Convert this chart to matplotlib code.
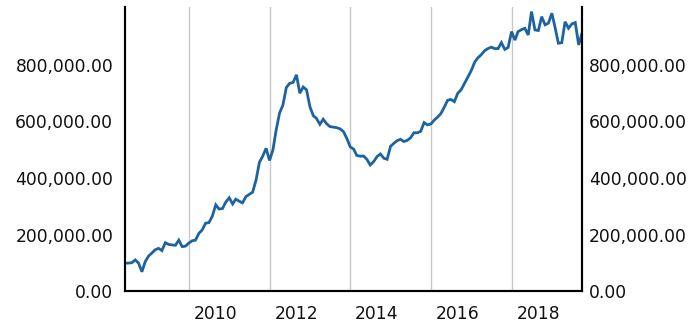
import matplotlib
matplotlib.use('Agg')
import matplotlib.pyplot as plt
import matplotlib.transforms as mtrans
from matplotlib.ticker import FuncFormatter
import pandas as pd

# monthly values, Jun 2008 .. Sep 2019
start = '2008-06-01'
values = [98000, 99000, 100000, 110000, 99000, 68000, 104000, 124000, 135000, 146000,
          151000, 143000, 171000, 165000, 163000, 162000, 180000, 157000, 159000, 170000,
          178000, 180000, 204000, 216000, 240000, 242000, 265000, 305000, 290000, 292000,
          315000, 330000, 308000, 325000, 318000, 312000, 334000, 342000, 350000, 393000,
          455000, 478000, 505000, 462000, 500000, 570000, 630000, 658000, 720000, 735000,
          738000, 765000, 700000, 722000, 712000, 652000, 620000, 611000, 590000, 608000,
          592000, 582000, 580000, 578000, 574000, 564000, 540000, 510000, 502000, 480000,
          477000, 478000, 466000, 446000, 458000, 476000, 485000, 470000, 466000, 512000,
          523000, 532000, 537000, 529000, 533000, 542000, 560000, 560000, 565000, 596000,
          588000, 591000, 605000, 615000, 628000, 650000, 675000, 678000, 670000, 700000,
          712000, 735000, 758000, 780000, 810000, 825000, 836000, 850000, 858000, 863000,
          858000, 858000, 879000, 855000, 862000, 918000, 888000, 918000, 925000, 930000,
          906000, 989000, 924000, 922000, 971000, 942000, 948000, 983000, 930000, 877000,
          879000, 953000, 930000, 945000, 950000, 871000, 912000]
dates = pd.date_range(start, periods=len(values), freq='MS')
year_ticks = ['2010', '2012', '2014', '2016', '2018']
y_ticks = [0, 200000, 400000, 600000, 800000]

fig = plt.figure(figsize=(7, 3.35), dpi=100)
ax = fig.add_axes([0.1786, 0.1313, 0.6528, 0.8477])
ax.plot(dates, values, color='#1d63a0', lw=2, solid_joinstyle='miter')

ax.set_xlim(dates[0], dates[-1])
ax.set_ylim(0, 1005000)
fmt = FuncFormatter(lambda v, p: '{:,.2f}'.format(v))
ax.set_yticks(y_ticks)
ax.yaxis.set_major_formatter(fmt)
ax.set_xticks([pd.Timestamp(y + '-01-01') for y in year_ticks])
ax.set_xticklabels(year_ticks)
ax.grid(axis='x', color='#c8c8c8', lw=1)
ax.set_axisbelow(True)

ax.tick_params(axis='y', length=0, labelsize=12.3, pad=8.5, colors='#111111')
ax.tick_params(axis='x', length=0, labelsize=12.3, pad=10, colors='#111111')
off = mtrans.ScaledTranslation(5 / 100, 0, fig.dpi_scale_trans)
for lab in ax.get_xticklabels():
    lab.set_horizontalalignment('left')
    lab.set_transform(lab.get_transform() + off)

# right hand axis with same labels
ax2 = ax.twinx()
ax2.set_ylim(ax.get_ylim())
ax2.set_yticks(y_ticks)
ax2.yaxis.set_major_formatter(fmt)
ax2.tick_params(axis='y', length=0, labelsize=12.3, pad=5, colors='#111111')

for a in (ax, ax2):
    a.spines['top'].set_visible(False)
    for s in ['left', 'right', 'bottom']:
        a.spines[s].set_linewidth(1.5)
        a.spines[s].set_color('black')

fig.savefig('out.png', dpi=100)
